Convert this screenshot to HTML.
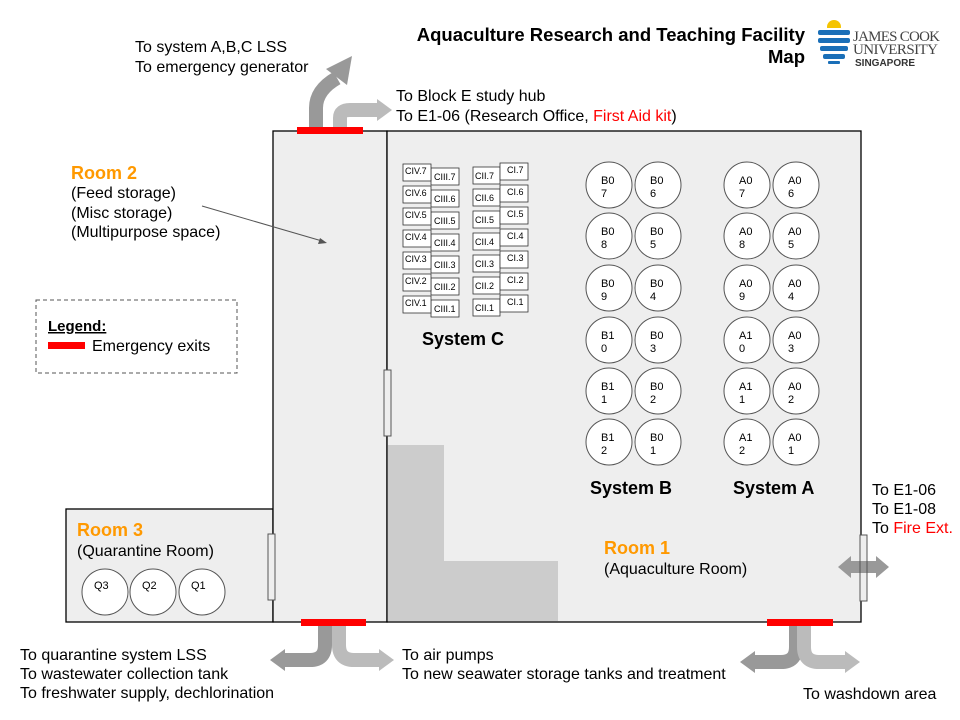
<!DOCTYPE html>
<html><head><meta charset="utf-8"><style>
html,body{margin:0;padding:0;background:#fff;}
svg{display:block;font-family:"Liberation Sans",Arial,sans-serif;}
</style></head><body>
<svg width="960" height="720" viewBox="0 0 960 720" xmlns="http://www.w3.org/2000/svg">
<!-- rooms -->
<rect x="66" y="509" width="207" height="113" fill="#eeeeee" stroke="#000" stroke-width="1.3"/>
<rect x="273" y="131" width="114" height="491" fill="#eeeeee" stroke="#000" stroke-width="1.3"/>
<rect x="387" y="131" width="474" height="491" fill="#eeeeee" stroke="#000" stroke-width="1.3"/>
<!-- L shape -->
<path d="M388 445 H444 V561 H558 V621 H388 Z" fill="#cccccc"/>
<!-- doors -->
<rect x="384" y="370" width="7" height="66" fill="#eee" stroke="#555" stroke-width="1"/>
<rect x="268" y="534" width="7" height="66" fill="#eee" stroke="#555" stroke-width="1"/>
<rect x="860" y="535" width="7" height="66" fill="#eee" stroke="#555" stroke-width="1"/>
<!-- exits -->
<rect x="297" y="127" width="66" height="7" fill="#ff0000"/>
<rect x="301" y="619" width="65" height="7" fill="#ff0000"/>
<rect x="767" y="619" width="66" height="7" fill="#ff0000"/>

<!-- top arrows -->
<path d="M316 127 V108 Q316 90 337 78" fill="none" stroke="#999" stroke-width="14"/>
<polygon points="352,56 326,69 347,85" fill="#999"/>
<path d="M340 127 V118 Q340 110 350 110 H378" fill="none" stroke="#bbb" stroke-width="14"/>
<polygon points="377,99 392,110 377,121" fill="#bbb"/>

<!-- bottom-left arrows -->
<path d="M325 626 V645 Q325 660 310 660 H284" fill="none" stroke="#999" stroke-width="14"/>
<polygon points="285,649 270,660 285,671" fill="#999"/>
<path d="M339 626 V645 Q339 660 354 660 H380" fill="none" stroke="#bbb" stroke-width="14"/>
<polygon points="379,649 394,660 379,671" fill="#bbb"/>

<!-- bottom-right arrows -->
<path d="M796 626 V647 Q796 662 781 662 H754" fill="none" stroke="#999" stroke-width="14"/>
<polygon points="755,651 740,662 755,673" fill="#999"/>
<path d="M804 626 V647 Q804 662 819 662 H846" fill="none" stroke="#bbb" stroke-width="14"/>
<polygon points="845,651 860,662 845,673" fill="#bbb"/>

<!-- right double arrow -->
<path d="M850 567 H878" stroke="#999" stroke-width="12"/>
<polygon points="851,556 838,567 851,578" fill="#999"/>
<polygon points="876,556 889,567 876,578" fill="#999"/>
<rect x="860" y="535" width="7" height="66" fill="none" stroke="#555" stroke-width="1"/>

<!-- room2 pointer -->
<line x1="202" y1="206" x2="322" y2="241" stroke="#555" stroke-width="1"/>
<polygon points="327,243 318,244 320,238" fill="#555"/>

<!-- legend -->
<rect x="36" y="300" width="201" height="73" fill="none" stroke="#555" stroke-dasharray="4,3"/>
<text x="48" y="331" font-size="15" font-weight="bold" text-decoration="underline">Legend:</text>
<rect x="48" y="342" width="37" height="7" fill="#ff0000"/>
<text x="92" y="351" font-size="16">Emergency exits</text>

<!-- title -->
<text x="805" y="41" font-size="18.5" font-weight="bold" text-anchor="end">Aquaculture Research and Teaching Facility</text>
<text x="805" y="63" font-size="18.5" font-weight="bold" text-anchor="end">Map</text>
<!-- logo -->
<g>
<circle cx="834" cy="27" r="7" fill="#f5c400"/>
<rect x="818" y="28" width="32" height="4" fill="#fff"/>
<rect x="818" y="30" width="32" height="5" rx="2" fill="#1a6fb8"/>
<rect x="818" y="38" width="32" height="5" rx="2" fill="#1a6fb8"/>
<rect x="820" y="46" width="28" height="5" rx="2" fill="#1a6fb8"/>
<rect x="823" y="54" width="22" height="5" rx="2" fill="#1a6fb8"/>
<rect x="828" y="61" width="12" height="3" rx="1" fill="#1a6fb8"/>
<text x="853" y="41" font-size="15" font-family="Liberation Serif,serif" fill="#444" textLength="87">JAMES COOK</text>
<text x="853" y="54" font-size="15" font-family="Liberation Serif,serif" fill="#444" textLength="85">UNIVERSITY</text>
<text x="855" y="66" font-size="10" font-weight="bold" fill="#333">SINGAPORE</text>
</g>

<!-- outside labels -->
<g font-size="16" fill="#000">
<text x="135" y="52">To system A,B,C LSS</text>
<text x="135" y="72">To emergency generator</text>
<text x="396" y="101">To Block E study hub</text>
<text x="396" y="121">To E1-06 (Research Office, <tspan fill="#ff0000">First Aid kit</tspan>)</text>
<text x="872" y="495">To E1-06</text>
<text x="872" y="514">To E1-08</text>
<text x="872" y="533">To <tspan fill="#ff0000">Fire Ext.</tspan></text>
<text x="20" y="660">To quarantine system LSS</text>
<text x="20" y="679">To wastewater collection tank</text>
<text x="20" y="698">To freshwater supply, dechlorination</text>
<text x="402" y="660">To air pumps</text>
<text x="402" y="679">To new seawater storage tanks and treatment</text>
<text x="803" y="699">To washdown area</text>
</g>

<!-- room labels -->
<text x="71" y="179" font-size="18" font-weight="bold" fill="#ff9900">Room 2</text>
<g font-size="16"><text x="71" y="198">(Feed storage)</text><text x="71" y="218">(Misc storage)</text><text x="71" y="237">(Multipurpose space)</text></g>
<text x="77" y="536" font-size="18" font-weight="bold" fill="#ff9900">Room 3</text>
<text x="77" y="556" font-size="16">(Quarantine Room)</text>
<text x="604" y="554" font-size="18" font-weight="bold" fill="#ff9900">Room 1</text>
<text x="604" y="574" font-size="16">(Aquaculture Room)</text>
<g font-size="18" font-weight="bold">
<text x="422" y="345">System C</text>
<text x="590" y="494">System B</text>
<text x="733" y="494">System A</text>
</g>

<!-- Q tanks -->
<g fill="#fff" stroke="#555" stroke-width="1">
<circle cx="105" cy="592" r="23"/><circle cx="153" cy="592" r="23"/><circle cx="202" cy="592" r="23"/>
</g>
<g font-size="11"><text x="94" y="589">Q3</text><text x="142" y="589">Q2</text><text x="191" y="589">Q1</text></g>

<!-- system C tanks -->
<g fill="#fff" stroke="#333" stroke-width="0.8">
<rect x="431" y="168" width="28" height="17"/><rect x="431" y="190" width="28" height="17"/><rect x="431" y="212" width="28" height="17"/><rect x="431" y="234" width="28" height="17"/><rect x="431" y="256" width="28" height="17"/><rect x="431" y="278" width="28" height="17"/><rect x="431" y="300" width="28" height="17"/>
<rect x="403" y="164" width="28" height="17"/><rect x="403" y="186" width="28" height="17"/><rect x="403" y="208" width="28" height="17"/><rect x="403" y="230" width="28" height="17"/><rect x="403" y="252" width="28" height="17"/><rect x="403" y="274" width="28" height="17"/><rect x="403" y="296" width="28" height="17"/>
<rect x="473" y="167" width="27" height="17"/><rect x="473" y="189" width="27" height="17"/><rect x="473" y="211" width="27" height="17"/><rect x="473" y="233" width="27" height="17"/><rect x="473" y="255" width="27" height="17"/><rect x="473" y="277" width="27" height="17"/><rect x="473" y="299" width="27" height="17"/>
<rect x="500" y="163" width="28" height="17"/><rect x="500" y="185" width="28" height="17"/><rect x="500" y="207" width="28" height="17"/><rect x="500" y="229" width="28" height="17"/><rect x="500" y="251" width="28" height="17"/><rect x="500" y="273" width="28" height="17"/><rect x="500" y="295" width="28" height="17"/>
</g>
<g font-size="9" fill="#000">
<text x="405" y="174">CIV.7</text><text x="405" y="196">CIV.6</text><text x="405" y="218">CIV.5</text><text x="405" y="240">CIV.4</text><text x="405" y="262">CIV.3</text><text x="405" y="284">CIV.2</text><text x="405" y="306">CIV.1</text>
<text x="434" y="180">CIII.7</text><text x="434" y="202">CIII.6</text><text x="434" y="224">CIII.5</text><text x="434" y="246">CIII.4</text><text x="434" y="268">CIII.3</text><text x="434" y="290">CIII.2</text><text x="434" y="312">CIII.1</text>
<text x="475" y="179">CII.7</text><text x="475" y="201">CII.6</text><text x="475" y="223">CII.5</text><text x="475" y="245">CII.4</text><text x="475" y="267">CII.3</text><text x="475" y="289">CII.2</text><text x="475" y="311">CII.1</text>
<text x="507" y="173">CI.7</text><text x="507" y="195">CI.6</text><text x="507" y="217">CI.5</text><text x="507" y="239">CI.4</text><text x="507" y="261">CI.3</text><text x="507" y="283">CI.2</text><text x="507" y="305">CI.1</text>
</g>

<!-- A/B tanks -->
<g fill="#fff" stroke="#555" stroke-width="1">
<circle cx="609" cy="185" r="23"/><circle cx="658" cy="185" r="23"/><circle cx="747" cy="185" r="23"/><circle cx="796" cy="185" r="23"/>
<circle cx="609" cy="236" r="23"/><circle cx="658" cy="236" r="23"/><circle cx="747" cy="236" r="23"/><circle cx="796" cy="236" r="23"/>
<circle cx="609" cy="288" r="23"/><circle cx="658" cy="288" r="23"/><circle cx="747" cy="288" r="23"/><circle cx="796" cy="288" r="23"/>
<circle cx="609" cy="340" r="23"/><circle cx="658" cy="340" r="23"/><circle cx="747" cy="340" r="23"/><circle cx="796" cy="340" r="23"/>
<circle cx="609" cy="391" r="23"/><circle cx="658" cy="391" r="23"/><circle cx="747" cy="391" r="23"/><circle cx="796" cy="391" r="23"/>
<circle cx="609" cy="442" r="23"/><circle cx="658" cy="442" r="23"/><circle cx="747" cy="442" r="23"/><circle cx="796" cy="442" r="23"/>
</g>
<g font-size="11">
<text x="601" y="184">B0</text><text x="601" y="197">7</text><text x="650" y="184">B0</text><text x="650" y="197">6</text><text x="739" y="184">A0</text><text x="739" y="197">7</text><text x="788" y="184">A0</text><text x="788" y="197">6</text>
<text x="601" y="235">B0</text><text x="601" y="248">8</text><text x="650" y="235">B0</text><text x="650" y="248">5</text><text x="739" y="235">A0</text><text x="739" y="248">8</text><text x="788" y="235">A0</text><text x="788" y="248">5</text>
<text x="601" y="287">B0</text><text x="601" y="300">9</text><text x="650" y="287">B0</text><text x="650" y="300">4</text><text x="739" y="287">A0</text><text x="739" y="300">9</text><text x="788" y="287">A0</text><text x="788" y="300">4</text>
<text x="601" y="339">B1</text><text x="601" y="352">0</text><text x="650" y="339">B0</text><text x="650" y="352">3</text><text x="739" y="339">A1</text><text x="739" y="352">0</text><text x="788" y="339">A0</text><text x="788" y="352">3</text>
<text x="601" y="390">B1</text><text x="601" y="403">1</text><text x="650" y="390">B0</text><text x="650" y="403">2</text><text x="739" y="390">A1</text><text x="739" y="403">1</text><text x="788" y="390">A0</text><text x="788" y="403">2</text>
<text x="601" y="441">B1</text><text x="601" y="454">2</text><text x="650" y="441">B0</text><text x="650" y="454">1</text><text x="739" y="441">A1</text><text x="739" y="454">2</text><text x="788" y="441">A0</text><text x="788" y="454">1</text>
</g>
</svg>
</body></html>
